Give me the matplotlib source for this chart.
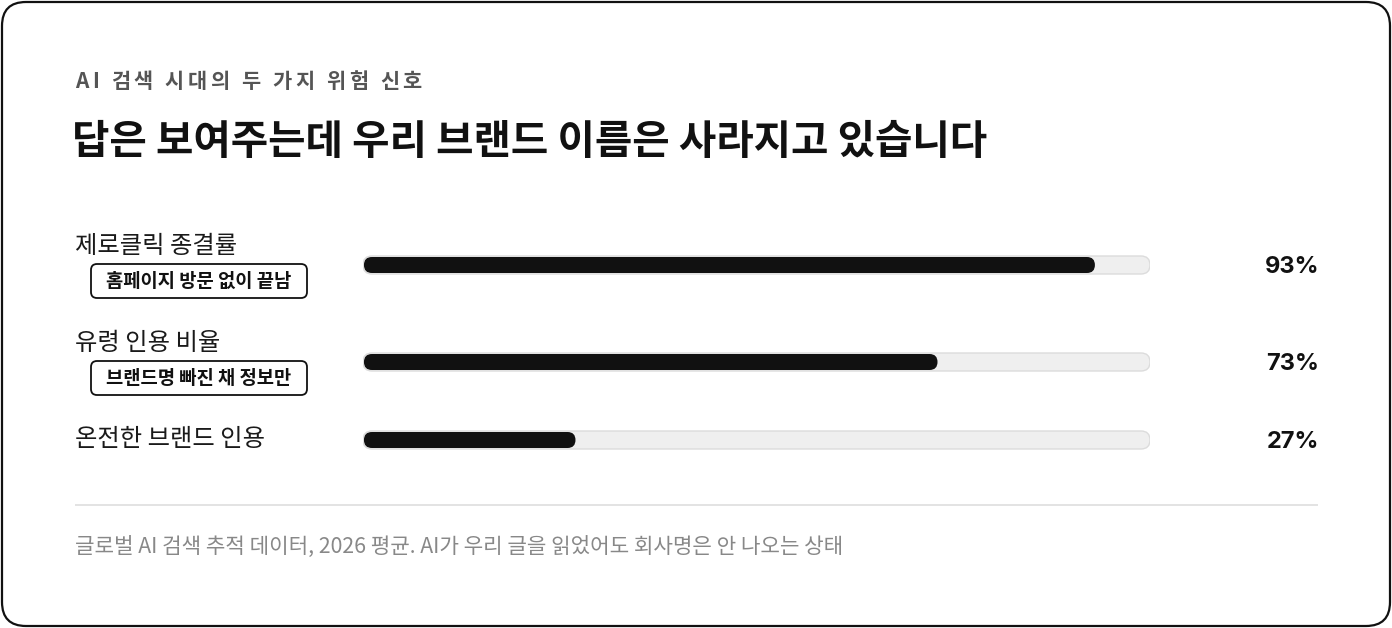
import matplotlib
matplotlib.use("Agg")
import matplotlib.pyplot as plt
from matplotlib.patches import FancyBboxPatch

plt.rcParams['font.family'] = ['Noto Sans CJK KR', 'DejaVu Sans']

# ---- data ----
eyebrow = "AI 검색 시대의 두 가지 위험 신호"
title = "답은 보여주는데 우리 브랜드 이름은 사라지고 있습니다"
categories = ["제로클릭 종결률", "유령 인용 비율", "온전한 브랜드 인용"]
badges = ["홈페이지 방문 없이 끝남", "브랜드명 빠진 채 정보만", None]
values = [93, 73, 27]
value_labels = ["93%", "73%", "27%"]
footnote = "글로벌 AI 검색 추적 데이터, 2026 평균. AI가 우리 글을 읽었어도 회사명은 안 나오는 상태"

W, H = 1392, 628
DPI = 100
fig = plt.figure(figsize=(W / DPI, H / DPI), dpi=DPI)
fig.patch.set_facecolor("white")

ax = fig.add_axes([0, 0, 1, 1])
ax.set_xlim(0, W)
ax.set_ylim(H, 0)
ax.axis("off")
renderer = fig.canvas.get_renderer()


def tracked_text(x, y, s, spacing, **kw):
    """Draw text char by char with extra letter spacing (pixels)."""
    def width(t):
        tt = ax.text(0, 0, t, **kw)
        w = tt.get_window_extent(renderer).width
        tt.remove()
        return w
    for ch in s:
        if ch == " ":
            w = width("a a") - width("aa")
        else:
            ax.text(x, y, ch, ha="left", va="center", **kw)
            w = width(ch)
        x += w + spacing


card = FancyBboxPatch((2, 2), W - 4, H - 4,
                      boxstyle="round,pad=0,rounding_size=24",
                      facecolor="white", edgecolor="#111111", linewidth=1.6)
ax.add_patch(card)

tracked_text(75, 81, eyebrow, 3.6, fontsize=15, fontweight="bold", color="#555555")
ax.text(72, 143, title, fontsize=29.3, fontweight="bold", color="#111111",
        ha="left", va="center")

row_label_y = [246, 343, 439]
row_bar_y = [265, 362, 440]
badge_y = [281, 378]

for i, cat in enumerate(categories):
    ax.text(75, row_label_y[i], cat, fontsize=17.5, color="#1a1a1a",
            ha="left", va="center")
    if badges[i]:
        b = FancyBboxPatch((91, badge_y[i] - 17), 216, 34,
                           boxstyle="round,pad=0,rounding_size=6",
                           facecolor="white", edgecolor="#111111", linewidth=1.3)
        ax.add_patch(b)
        ax.text(199, badge_y[i], badges[i], fontsize=13.5, fontweight="bold",
                color="#111111", ha="center", va="center")
    ax.text(1319, row_bar_y[i] + 2, value_labels[i], fontsize=17, fontweight="bold",
            color="#111111", ha="right", va="center",
            family=['Inter', 'DejaVu Sans'])

ax.plot([75, 1318], [505, 505], color="#e0e0e0", linewidth=1.3,
        solid_capstyle="butt")
ax.text(75, 548, footnote, fontsize=15.3, color="#888888", ha="left", va="center")

# bar axes: x in percent, y scaled so that 1 unit == same pixels as x
bx0, bx1 = 363, 1150
by0, by1 = 220, 480
pxu = (bx1 - bx0) / 100.0
bax = fig.add_axes([bx0 / W, 1 - by1 / H, (bx1 - bx0) / W, (by1 - by0) / H])
bax.set_xlim(0, 100)
bax.set_ylim((by1 - by0) / pxu, 0)
bax.axis("off")

track_h = 18 / pxu
fill_h = 16 / pxu
for i, v in enumerate(values):
    yc = (row_bar_y[i] - by0) / pxu
    tr = FancyBboxPatch((0, yc - track_h / 2), 100, track_h,
                        boxstyle="round,pad=0,rounding_size=%f" % (track_h / 2),
                        facecolor="#efefef", edgecolor="#dcdcdc", linewidth=1.0)
    bax.add_patch(tr)
    fl = FancyBboxPatch((0.12, yc - fill_h / 2), v - 0.12, fill_h,
                        boxstyle="round,pad=0,rounding_size=%f" % (fill_h / 2),
                        facecolor="#111111", edgecolor="none")
    bax.add_patch(fl)

fig.savefig("out.png", dpi=DPI, facecolor="white")
